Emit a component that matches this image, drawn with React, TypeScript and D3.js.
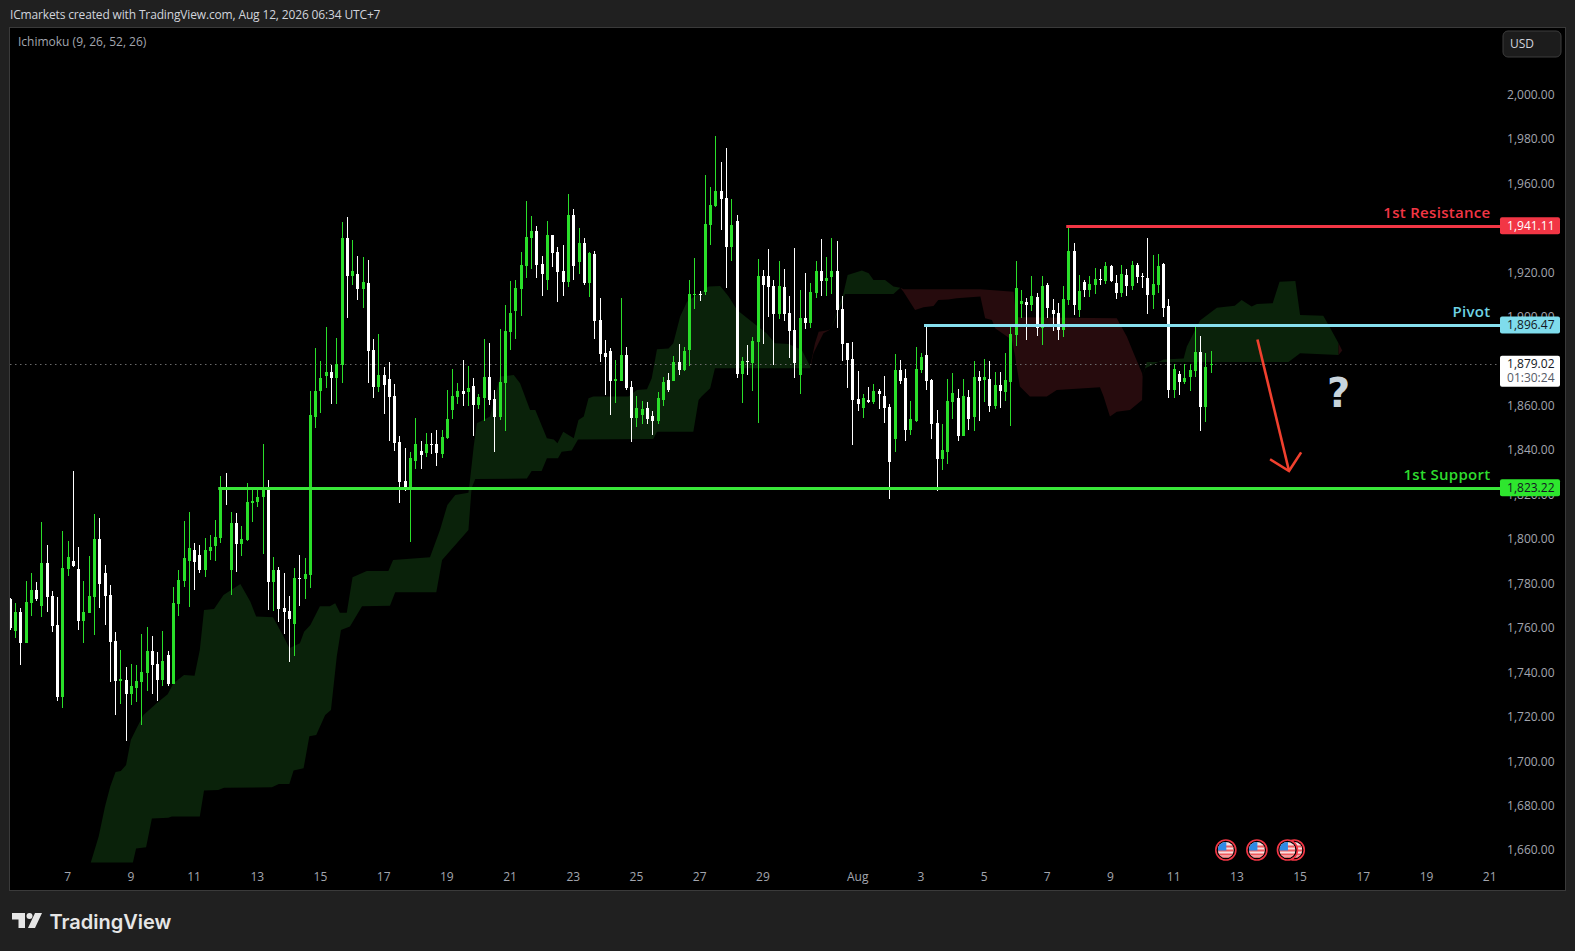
import React, { useEffect, useRef } from "react";
import * as d3 from "d3";

type Candle = [number, number, number, number]; // open, high, low, close
type Pt = [number, number]; // bar index, price

// 4h candles
const candlesFirstLeg: Candle[] = [
  [1773, 1773.5, 1759.3, 1760],
  [1758.8, 1771.3, 1755.7, 1767.4], [1767.4, 1769, 1743.5, 1753.4], [1753.4, 1781.1, 1753.4, 1771.9],
  [1771.4, 1784.9, 1765.6, 1777.3], [1777.3, 1780.9, 1772.3, 1773.2], [1770.1, 1807.9, 1765.1, 1789.4],
  [1789.4, 1797.5, 1767.4, 1774.1], [1774.6, 1776.8, 1758.4, 1761.1], [1761.5, 1774.1, 1727.3, 1729.1],
  [1729.1, 1803.8, 1724.2, 1787.2], [1786.7, 1799.3, 1783.6, 1792.1], [1790.3, 1830.8, 1787.6, 1788.1],
  [1786.7, 1796.6, 1759.3, 1763.3], [1763.3, 1781.3, 1753.4, 1767.4], [1766.9, 1792.6, 1766.9, 1774.6],
  [1774.1, 1811.5, 1757, 1800.2], [1800.2, 1809.7, 1769.2, 1780], [1784.9, 1788.5, 1761.5, 1774.6],
  [1775, 1779.5, 1735.9, 1753.9], [1754.3, 1758.4, 1721, 1736.3], [1736.3, 1750.3, 1726, 1737.2],
  [1736.8, 1742.6, 1709.3, 1730.5], [1730.5, 1744, 1725.5, 1734.1], [1733.2, 1743.5, 1726.9, 1736.3],
  [1735.9, 1757.5, 1716.5, 1740.4], [1739.9, 1760.6, 1731.8, 1749.8], [1749.8, 1756.6, 1730.5, 1743.5],
  [1744, 1749.4, 1727.3, 1736.8], [1736.8, 1758.8, 1734.1, 1745.3], [1748, 1749.8, 1734.1, 1735],
  [1735, 1778.6, 1735, 1771.4], [1771, 1786.3, 1765.6, 1781.8], [1781.3, 1808.3, 1778.6, 1791.7],
  [1790.3, 1812.4, 1769.6, 1796.2], [1795.3, 1798.4, 1777.3, 1789.9], [1793, 1797.5, 1784.9, 1786.3],
  [1786.3, 1800.7, 1783.1, 1795.3], [1794.8, 1802, 1790.8, 1796.6], [1797.1, 1808.8, 1790.3, 1801.1],
  [1800.7, 1828.6, 1798.4, 1823], [1823.6, 1829.9, 1815.5, 1823.2], [1786.3, 1812.4, 1775, 1807.4],
  [1807.4, 1811.9, 1785.4, 1798], [1798, 1806.1, 1792.6, 1800.2], [1799.8, 1825.4, 1799.3, 1816.9],
  [1816.4, 1822.3, 1807.9, 1817.3], [1816.9, 1822.3, 1814.6, 1819.1], [1819.1, 1843, 1793.5, 1822.3],
  [1822.7, 1826.8, 1768.3, 1780.9], [1780.9, 1792.1, 1767.8, 1786.3], [1786.3, 1787.6, 1762.9, 1768.7],
  [1769.2, 1784.9, 1757.5, 1767.4], [1767.8, 1774.6, 1744.9, 1764.2], [1762, 1787.2, 1747.6, 1782.7],
  [1782.7, 1793, 1770.1, 1782.2], [1782.2, 1791.7, 1773.2, 1784.5], [1784, 1866.8, 1778.2, 1856],
];

const candlesSecondLeg: Candle[] = [
  [1855.1, 1886.2, 1850.2, 1866.8], [1866.8, 1880.3, 1856.9, 1872.7], [1873.6, 1895.6, 1868.2, 1875.4],
  [1875.4, 1878.5, 1861, 1872.7], [1872.7, 1890.7, 1861, 1879], [1878.5, 1942.9, 1870.4, 1935.7],
  [1935.7, 1945.1, 1899.7, 1918.6], [1918.6, 1934.8, 1914.5, 1920.8], [1919.5, 1927.6, 1907.8, 1912.7],
  [1912.7, 1927.1, 1904.2, 1915.9], [1915.4, 1925.8, 1870.4, 1884.8], [1885.3, 1890.2, 1863.7, 1868.6],
  [1868.6, 1892.5, 1866.4, 1874], [1874, 1877.6, 1856.5, 1869.5], [1872.2, 1879.9, 1844.3, 1864.1],
  [1864.6, 1870, 1839.8, 1843.4], [1843.9, 1846.6, 1816.4, 1825.9], [1826.3, 1841.2, 1821.8, 1822.7],
  [1823, 1839.4, 1798.9, 1836.7], [1835.3, 1854.7, 1831.7, 1843], [1839.8, 1844.3, 1831.7, 1838],
  [1838.9, 1847.9, 1837.1, 1843], [1843, 1847.9, 1838.5, 1842.5], [1843, 1849.3, 1833.1, 1838.9],
  [1838.5, 1849.3, 1836.7, 1846.1], [1845.7, 1867.3, 1845.2, 1854.2], [1858.3, 1876.7, 1854.2, 1864.6],
  [1864.1, 1870.4, 1861, 1866.8], [1866.8, 1880.8, 1860.1, 1865.5], [1866.4, 1878.1, 1860.1, 1868.2],
  [1869.1, 1872.7, 1846.6, 1860.5], [1860.5, 1865.5, 1858.7, 1864.1], [1863.7, 1890.2, 1853.3, 1873.1],
  [1873.1, 1888.4, 1860.5, 1862.8], [1863.2, 1867.3, 1839.4, 1855.1], [1855.1, 1894.7, 1853.8, 1870.9],
  [1870.4, 1905.5, 1848.8, 1893.8], [1893.4, 1916.3, 1885.3, 1901.9], [1902.8, 1916.8, 1890.2, 1913.2],
  [1912.7, 1929.4, 1900.6, 1923.5], [1923.1, 1952.3, 1917.7, 1936.1], [1935.7, 1945.6, 1921.7, 1938.8],
  [1938.8, 1941.1, 1917.7, 1923.5], [1924, 1927.6, 1909.6, 1919.5], [1916.8, 1943.3, 1912.3, 1937],
  [1937, 1937, 1922.6, 1928.9], [1929.4, 1931.6, 1906.9, 1920.4], [1920.8, 1932.5, 1909.6, 1915.9],
  [1915.9, 1955.5, 1913.6, 1946], [1946, 1948.7, 1916.8, 1923.1], [1924.9, 1940.2, 1919.5, 1933.4],
  [1933.4, 1935.7, 1914.5, 1915.4], [1915.4, 1929.4, 1909.1, 1928.9], [1928.5, 1929.8, 1890.2, 1898.3],
  [1898.8, 1908.7, 1879.9, 1883.5], [1883.9, 1889.8, 1865, 1882.1], [1884.8, 1886.2, 1856, 1871.3],
  [1871.3, 1880.8, 1861.4, 1872.2], [1871.3, 1908.7, 1871.3, 1883], [1883, 1886.6, 1867.3, 1868.2],
];

const candlesThirdLeg: Candle[] = [
  [1868.6, 1871.3, 1843.9, 1854.7], [1854.7, 1864.6, 1850.6, 1859.2], [1856, 1862.3, 1852, 1858.7],
  [1859.2, 1861.9, 1852, 1854.2], [1855.6, 1857.8, 1847, 1853.3], [1853.3, 1866.4, 1852, 1863.7],
  [1862.8, 1873.1, 1860.1, 1870.9], [1871.8, 1874.9, 1866.4, 1867.3], [1871.3, 1882.6, 1871.3, 1879.9],
  [1879.9, 1888, 1874, 1876.3], [1876.3, 1886.6, 1875.8, 1884.8], [1885.3, 1916.8, 1878.1, 1910.5],
  [1910, 1926.7, 1903.7, 1910.5], [1910.5, 1911.8, 1907.3, 1910], [1911.4, 1964, 1910, 1942],
  [1941.5, 1958.6, 1932.5, 1950.5], [1950.1, 1981.6, 1949.6, 1956.8], [1956.8, 1969.9, 1939.3, 1953.2],
  [1953.7, 1976.2, 1913.2, 1931.6], [1931.6, 1953.2, 1925.3, 1941.5], [1943.3, 1946, 1872.7, 1874.5],
  [1874.5, 1882.1, 1861.4, 1880.3], [1880.3, 1887.5, 1874, 1879.9], [1879.4, 1891.1, 1866.8, 1889.3],
  [1888.9, 1926.2, 1852.4, 1918.6], [1918.6, 1921.3, 1888, 1914.5], [1918.6, 1930.7, 1900.1, 1913.6],
  [1914.1, 1916.8, 1878.5, 1901.5], [1901.5, 1925.3, 1899.2, 1914.1], [1913.6, 1921.7, 1898.3, 1901.5],
  [1901.9, 1909.6, 1881.7, 1893.8], [1894.3, 1931.2, 1872.7, 1879.4], [1874, 1912.3, 1865.5, 1899.7],
  [1899.7, 1919.9, 1894.7, 1897.4], [1897.4, 1915.4, 1895.2, 1911.4], [1910.9, 1925.3, 1908.7, 1920.8],
  [1920.8, 1935.2, 1909.6, 1916.3], [1916.3, 1927.1, 1909.6, 1917.7], [1918.1, 1935.7, 1910.5, 1920.8],
  [1920.8, 1934.3, 1895.2, 1903.3], [1903.7, 1909.6, 1880.3, 1888], [1888.4, 1888.4, 1868.2, 1880.8],
  [1881.2, 1888.9, 1842.5, 1862.8], [1863.2, 1875.8, 1857.8, 1861], [1859.2, 1865.5, 1854.7, 1863.7],
  [1862.8, 1868.6, 1861.4, 1861.9], [1861.9, 1870, 1861, 1866.8], [1866.8, 1867.7, 1858.7, 1865.5],
  [1864.6, 1873.6, 1852.4, 1859.2], [1859.6, 1861, 1818.2, 1834.9], [1845.2, 1883.5, 1839.4, 1876.3],
  [1876.3, 1880.8, 1870, 1871.3], [1872.7, 1876.7, 1844.3, 1849.3], [1849.3, 1862.3, 1847, 1854.2],
  [1853.3, 1886.6, 1852.9, 1876.7], [1876.3, 1883.9, 1874.9, 1882.1], [1883, 1896.5, 1867.3, 1871.3],
  [1871.8, 1872.2, 1845.2, 1852],
];

const candlesLastLeg: Candle[] = [
  [1852.4, 1858.3, 1822, 1836.2], [1836.2, 1852, 1831.3, 1840.3], [1839.4, 1872.2, 1834, 1862.3],
  [1861.9, 1874.9, 1854.2, 1865.9], [1863.7, 1867.7, 1844.3, 1846.6], [1846.6, 1872.2, 1846.6, 1864.6],
  [1864.1, 1867.3, 1849.3, 1854.2], [1855.1, 1880.3, 1848.8, 1873.1], [1873.1, 1875.8, 1853.3, 1871.3],
  [1871.8, 1881.2, 1861.9, 1873.1], [1872.2, 1880.3, 1857.4, 1860.1], [1860.1, 1875.4, 1858.7, 1869.5],
  [1869.5, 1875.4, 1859.2, 1866.8], [1866.4, 1883.9, 1862.3, 1871.8], [1870.9, 1897, 1851.1, 1892.5],
  [1892, 1925.3, 1887.1, 1913.2], [1906, 1912.3, 1899.7, 1907.3], [1906.9, 1908.7, 1889.8, 1905.5],
  [1905.5, 1918.6, 1902.8, 1909.6], [1909.1, 1910.9, 1891.6, 1895.2], [1895.2, 1918.6, 1887.5, 1914.1],
  [1914.5, 1915.4, 1899.7, 1904.2], [1903.3, 1908.2, 1893.8, 1901.5], [1901.9, 1906.4, 1889.8, 1894.3],
  [1894.3, 1914.1, 1891.1, 1908.2], [1907.8, 1941.1, 1905.5, 1929.8], [1929.8, 1933.4, 1901, 1905.5],
  [1903.3, 1919, 1900.1, 1911.8], [1915.9, 1916.8, 1909.1, 1912.3], [1912.3, 1918.6, 1909.1, 1915],
  [1914.5, 1922.2, 1910.5, 1917.2], [1917.2, 1921.7, 1914.5, 1916.8], [1916.3, 1924.9, 1915, 1923.1],
  [1923.1, 1923.5, 1915.9, 1916.3], [1915.4, 1919, 1908.2, 1910.9], [1910.9, 1923.5, 1909.1, 1919.5],
  [1919, 1921.7, 1909.6, 1914.1], [1914.1, 1925.3, 1912.3, 1923.5], [1923.5, 1924.4, 1915.4, 1918.1],
  [1918.6, 1919.9, 1913.2, 1918.1], [1917.7, 1935.7, 1901.5, 1910], [1910, 1928, 1903.7, 1915],
  [1914.5, 1928.5, 1910.9, 1923.1], [1924, 1924.4, 1900.1, 1904.2], [1905.1, 1908.2, 1863.7, 1867.3],
  [1867.3, 1879, 1863.7, 1876.7], [1874.5, 1875.8, 1865, 1870.9], [1870.9, 1879, 1870, 1872.7],
  [1873.1, 1879, 1866.8, 1876.3], [1875.8, 1896.1, 1873.1, 1884.4], [1884.4, 1891.6, 1848.8, 1859.6],
  [1859.6, 1883.9, 1852.9, 1877.6], [1878.5, 1884.8, 1874.9, 1879],
];

// Ichimoku cloud edges, bar index and price
const greenCloudUpper: Pt[] = [
  [15.3, 1654.6], [16.8, 1666.3], [18, 1679.8], [19, 1688.8], [20, 1695.4], [21, 1695.8], [22, 1698.5],
  [22.9, 1709.8], [24, 1715], [25.3, 1721], [27.8, 1726.3], [29.9, 1730.3], [31, 1735.3], [33, 1739],
  [35, 1738.7], [36, 1750.3], [36.8, 1768.3], [38.7, 1768.7], [40.5, 1775], [43.7, 1780], [45.6, 1772],
  [46.7, 1765.3], [49.9, 1765], [51.9, 1756.3], [53, 1751], [55, 1753.3], [55.8, 1758.5], [57, 1761.5],
  [58.8, 1770], [60.7, 1770], [61.7, 1771.3], [62.6, 1767], [63.9, 1767], [65, 1783], [67.7, 1785.8],
  [71.8, 1785.8], [72.7, 1790.8], [77.8, 1791.7], [79.7, 1792], [81.6, 1804.3], [83, 1815.5], [84.5, 1820],
  [87, 1821], [87.3, 1826.8], [88, 1841.8], [88.6, 1852.3], [91.1, 1855.3], [93, 1873.3], [95.6, 1874],
  [96.8, 1870.3], [98.7, 1858.3], [99.7, 1858.3], [101.9, 1845.5], [103.2, 1845], [103.9, 1843.3],
  [105, 1848.5], [107, 1845.5], [107.9, 1853.8], [108.9, 1855.3], [109.8, 1863.5], [110.7, 1864.3],
  [117.4, 1864.3], [119, 1867.3], [120.9, 1867.6], [121.8, 1872.5], [122.8, 1885.6], [125, 1885.9],
  [125.9, 1888.3], [127.2, 1900.3], [128.5, 1907], [132.6, 1913.8], [134.8, 1914.1], [136.4, 1909.3],
  [138, 1903.3], [140.8, 1898], [143.6, 1892.8], [145.2, 1888.3], [147.8, 1888], [150.3, 1885.3], [151.9, 1877.8],
];
const greenCloudLower: Pt[] = [
  [15.3, 1654.6], [23.3, 1654.6], [23.9, 1661], [25.8, 1661.5], [26.9, 1674.5], [30, 1674.8], [30.7, 1675.4],
  [36, 1675.4], [36.8, 1687], [39.5, 1687.3], [40.6, 1688.3], [49.7, 1688.5], [51, 1690], [53, 1690],
  [53.8, 1696], [55.7, 1697], [56.8, 1711.5], [58.1, 1712], [59.8, 1721], [60.9, 1723.3], [62, 1747.3],
  [62.8, 1759.3], [64.5, 1760.8], [66.8, 1770], [72.1, 1770.2], [73.1, 1776.2], [80.9, 1776.2], [82, 1790.8],
  [87, 1804.3], [87.6, 1823], [88.3, 1827.2], [98.1, 1827.4], [99, 1830.8], [100.9, 1830.8], [101.9, 1836.5],
  [104, 1836.5], [104.7, 1839.5], [106.6, 1840], [107.8, 1845], [122.1, 1845.2], [122.8, 1848.5], [129.7, 1848.5],
  [130.7, 1862.8], [131.3, 1864.5], [132.9, 1868], [133.8, 1877], [151.9, 1877],
];
const redWedgeUpper: Pt[] = [[151.9, 1877.8], [152.8, 1888.3], [153.5, 1893.5], [155, 1894], [155.8, 1894.6]];
const redWedgeLower: Pt[] = [[151.9, 1877], [152.5, 1883.8], [154.4, 1892.8], [155.8, 1894.6]];
const greenTwoUpper: Pt[] = [
  [155.8, 1894.6], [156.9, 1901.8], [158.2, 1910.8], [159, 1919], [161.7, 1921], [163, 1919.8], [163.9, 1916.8],
  [166.1, 1916.8], [167.7, 1913.8], [169, 1913.3],
];
const greenTwoLower: Pt[] = [[155.8, 1894.6], [157.6, 1904.8], [158.5, 1910.5], [167.7, 1910.5], [169, 1913.3]];
const redCloudUpper: Pt[] = [
  [169, 1913.3], [169.6, 1912.6], [184.2, 1912.6], [190.5, 1911.5], [191, 1900], [210.1, 1899.5], [212, 1891.3],
  [213.3, 1883.8], [214.9, 1874.8], [215, 1873.3],
];
const redCloudLower: Pt[] = [
  [169, 1913.3], [169.6, 1911.5], [171.8, 1903.3], [173.4, 1904.5], [175.3, 1905.1], [176.2, 1907.8], [178.1, 1908],
  [179.7, 1908.5], [184.2, 1909.3], [185.1, 1899.5], [186.4, 1898.8], [187, 1895], [190.2, 1889.8], [190.8, 1882.3],
  [191.7, 1868.8], [193.6, 1864.3], [196.8, 1864.3], [198.7, 1867.3], [206.9, 1868.5], [207.6, 1864.3], [208.8, 1855.3],
  [210.1, 1857.5], [212.6, 1858.3], [214.9, 1862.8], [215, 1873.3],
];
const greenThreeUpper: Pt[] = [
  [215, 1873.3], [215.5, 1877], [219, 1881], [222.8, 1881.4], [223.4, 1886.8], [225.9, 1898.5], [229.1, 1904.3],
  [232.5, 1905.2], [233.8, 1907.8], [235.7, 1904.8], [236.7, 1906], [239.7, 1906.3], [241, 1916], [244, 1916.3],
  [244.9, 1901], [249.3, 1900.7], [250.3, 1896.5], [252.2, 1888.3],
];
const greenThreeLower: Pt[] = [[215, 1873.3], [215.8, 1879.9], [242.7, 1879.9], [244.9, 1883.8], [252.2, 1883]];
const redTipUpper: Pt[] = [[252.2, 1888.3], [252.9, 1885]];
const redTipLower: Pt[] = [[252.2, 1883], [252.9, 1885]];

const priceTicks = [2000, 1980, 1960, 1940, 1920, 1900, 1880, 1860, 1840, 1820, 1800, 1780, 1760, 1740, 1720, 1700, 1680, 1660];
const dateTickBars = [11, 23, 35, 47, 59, 71, 83, 95, 107, 119, 131, 143, 161, 173, 185, 197, 209, 221, 233, 245, 257, 269, 281];
const dateTickLabels = ["7", "9", "11", "13", "15", "17", "19", "21", "23", "25", "27", "29", "Aug", "3", "5", "7", "9", "11", "13", "15", "17", "19", "21"];

const resistance = 1941.11;
const pivot = 1896.47;
const support = 1823.22;
const lastPrice = 1879.02;
const countdown = "01:30:24";

const resistanceStartBar = 200.5;
const pivotStartBar = 173.5;
const supportStartBar = 39.5;
const axisBar = 283;

const arrowShaft: Pt[] = [[236.8, 1890], [242.8, 1830.8]];
const arrowHead: Pt[] = [[239.2, 1836.1], [242.8, 1830.8], [245.1, 1839.2]];
const questionMark: Pt = [252.2, 1866];
const eventBars = [243.8, 230.8, 236.7, 242.5];

const width = 1575;
const height = 951;
const pane = { left: 10, top: 28, right: 1565, bottom: 890 };
const font = "'Open Sans', 'Noto Sans', sans-serif";
const candleUp = "#2adf2a";
const candleDown = "#ffffff";
const axisText = "#a3a6af";

const App: React.FC = () => {
  const svgRef = useRef<SVGSVGElement | null>(null);

  useEffect(() => {
    if (!svgRef.current) return;
    const svg = d3.select(svgRef.current);
    svg.selectAll("*").remove();

    svg.append("rect").attr("width", width).attr("height", height).attr("fill", "#202020");
    svg.append("rect")
      .attr("x", pane.left - 0.5)
      .attr("y", pane.top - 0.5)
      .attr("width", pane.right - pane.left + 1)
      .attr("height", pane.bottom - pane.top + 1)
      .attr("fill", "#000")
      .attr("stroke", "#3a3a3a");

    const defs = svg.append("defs");
    defs.append("clipPath").attr("id", "pane")
      .append("rect")
      .attr("x", pane.left)
      .attr("y", pane.top)
      .attr("width", pane.right - pane.left)
      .attr("height", pane.bottom - pane.top);
    defs.append("clipPath").attr("id", "flag").append("circle").attr("r", 8);

    const x = d3.scaleLinear().domain([0, 100]).range([10.2, 10.2 + 526.7]);
    const y = d3.scaleLinear().domain([2000, 1660]).range([95, 850.6]);

    const g = svg.append("g").attr("clip-path", "url(#pane)");

    // cloud
    const edge = d3.line<Pt>().x((d) => x(d[0])).y((d) => y(d[1]));
    const cloud = (upper: Pt[], lower: Pt[], fill: string) =>
      g.append("path")
        .attr("d", edge([...upper, ...[...lower].reverse()]) + "Z")
        .attr("fill", fill);
    const cloudGreen = "#0a220a";
    const cloudRed = "#260b0d";
    cloud(greenCloudUpper, greenCloudLower, cloudGreen);
    cloud(redWedgeUpper, redWedgeLower, cloudRed);
    cloud(greenTwoUpper, greenTwoLower, cloudGreen);
    cloud(redCloudUpper, redCloudLower, cloudRed);
    cloud(greenThreeUpper, greenThreeLower, cloudGreen);
    cloud(redTipUpper, redTipLower, cloudRed);

    // current price line
    g.append("line")
      .attr("x1", pane.left)
      .attr("x2", x(axisBar))
      .attr("y1", Math.round(y(lastPrice)) + 0.5)
      .attr("y2", Math.round(y(lastPrice)) + 0.5)
      .attr("stroke", "#6a6a6a")
      .attr("stroke-dasharray", "1.5 3.5");

    // candles
    const candles = [...candlesFirstLeg, ...candlesSecondLeg, ...candlesThirdLeg, ...candlesLastLeg];
    const bars = g.append("g").attr("shape-rendering", "crispEdges");
    candles.forEach((c, i) => {
      const [open, high, low, close] = c;
      const color = close >= open ? candleUp : candleDown;
      const cx = Math.floor(x(i));
      bars.append("rect")
        .attr("x", cx)
        .attr("y", y(high))
        .attr("width", 1)
        .attr("height", Math.max(1, y(low) - y(high)))
        .attr("fill", color);
      const top = y(Math.max(open, close));
      bars.append("rect")
        .attr("x", cx - 1)
        .attr("y", top)
        .attr("width", 3)
        .attr("height", Math.max(1, y(Math.min(open, close)) - top))
        .attr("fill", color);
    });

    // level lines
    const levels: [number, number, string, string][] = [
      [support, supportStartBar, "#39e639", "1st Support"],
      [pivot, pivotStartBar, "#86dfee", "Pivot"],
      [resistance, resistanceStartBar, "#f23645", "1st Resistance"],
    ];
    levels.forEach(([price, start, color, label]) => {
      g.append("line")
        .attr("x1", x(start))
        .attr("x2", x(axisBar))
        .attr("y1", Math.round(y(price)) + 0.5)
        .attr("y2", Math.round(y(price)) + 0.5)
        .attr("stroke", color)
        .attr("stroke-width", 3);
      g.append("text")
        .attr("x", 1490.5)
        .attr("y", y(price) - 13)
        .attr("dy", "0.35em")
        .attr("text-anchor", "end")
        .attr("font-family", font)
        .attr("font-size", 15)
        .attr("font-weight", 600)
        .attr("letter-spacing", 0.3)
        .attr("fill", label === "Pivot" ? "#6fd3e3" : label === "1st Support" ? "#2fdc2f" : color)
        .text(label);
    });

    // arrow
    const arrowColor = "#f0402e";
    [arrowShaft, arrowHead].forEach((pts) => {
      g.append("path")
        .attr("d", edge(pts))
        .attr("fill", "none")
        .attr("stroke", arrowColor)
        .attr("stroke-width", 2.6);
    });

    g.append("text")
      .attr("x", x(questionMark[0]))
      .attr("y", y(questionMark[1]))
      .attr("dy", "0.36em")
      .attr("text-anchor", "middle")
      .attr("font-family", "'DejaVu Sans', sans-serif")
      .attr("font-weight", 700)
      .attr("font-size", 40)
      .attr("fill", "#c8d4dc")
      .text("?");

    // price axis
    const priceAxis = svg.append("g")
      .attr("transform", "translate(1554.5,-0.5)")
      .call(
        d3.axisLeft(y)
          .tickValues(priceTicks)
          .tickSize(0)
          .tickPadding(0)
          .tickFormat((d) => d3.format(",.2f")(d as number))
      );
    priceAxis.select(".domain").remove();
    priceAxis.selectAll("text")
      .attr("font-family", font)
      .attr("font-size", 12)
      .attr("fill", axisText);

    // time axis
    const timeAxis = svg.append("g")
      .attr("transform", "translate(-1,872)")
      .call(
        d3.axisBottom(x)
          .tickValues(dateTickBars)
          .tickSize(0)
          .tickPadding(0)
          .tickFormat((_, i) => dateTickLabels[i])
      );
    timeAxis.select(".domain").remove();
    timeAxis.selectAll("text")
      .attr("font-family", font)
      .attr("font-size", 12)
      .attr("fill", axisText);

    // price labels
    const priceBox = (price: number, fill: string, textFill: string) => {
      const cy = y(price);
      svg.append("rect")
        .attr("x", 1500)
        .attr("y", cy - 8.5)
        .attr("width", 60)
        .attr("height", 17)
        .attr("rx", 2)
        .attr("fill", fill);
      svg.append("text")
        .attr("x", 1554.5)
        .attr("y", cy)
        .attr("dy", "0.35em")
        .attr("text-anchor", "end")
        .attr("font-family", font)
        .attr("font-size", 12)
        .attr("fill", textFill)
        .text(d3.format(",.2f")(price));
    };
    priceBox(resistance, "#f23645", "#ffffff");
    priceBox(pivot, "#7fdcec", "#131722");
    priceBox(support, "#2ee62e", "#131722");

    const lastY = y(lastPrice);
    svg.append("rect")
      .attr("x", 1500)
      .attr("y", lastY - 8)
      .attr("width", 60)
      .attr("height", 31)
      .attr("rx", 2)
      .attr("fill", "#ffffff");
    svg.append("text")
      .attr("x", 1554.5)
      .attr("y", lastY)
      .attr("dy", "0.35em")
      .attr("text-anchor", "end")
      .attr("font-family", font)
      .attr("font-size", 12)
      .attr("fill", "#131722")
      .text(d3.format(",.2f")(lastPrice));
    svg.append("text")
      .attr("x", 1554.5)
      .attr("y", lastY + 14)
      .attr("dy", "0.35em")
      .attr("text-anchor", "end")
      .attr("font-family", font)
      .attr("font-size", 12)
      .attr("fill", "#555a66")
      .text(countdown);

    // event icons
    eventBars.forEach((bar) => {
      const icon = svg.append("g").attr("transform", `translate(${x(bar)},850)`);
      icon.append("circle").attr("r", 10).attr("fill", "#000").attr("stroke", "#f23645").attr("stroke-width", 1.6);
      const flag = icon.append("g").attr("clip-path", "url(#flag)");
      flag.append("rect").attr("x", -8).attr("y", -8).attr("width", 16).attr("height", 16).attr("fill", "#f8dede");
      [-4.5, -0.5, 3.5, 6.5].forEach((sy) => {
        flag.append("rect").attr("x", -8).attr("y", sy).attr("width", 16).attr("height", 2).attr("fill", "#ee5a5f");
      });
      flag.append("rect").attr("x", -8).attr("y", -8).attr("width", 8.5).attr("height", 8.5).attr("fill", "#2f8ae6");
    });

    // header
    svg.append("text")
      .attr("x", 10)
      .attr("y", 19)
      .attr("font-family", font)
      .attr("font-size", 12)
      .attr("letter-spacing", -0.15)
      .attr("fill", "#d1d4dc")
      .text("ICmarkets created with TradingView.com, Aug 12, 2026 06:34 UTC+7");
    svg.append("text")
      .attr("x", 18)
      .attr("y", 46)
      .attr("font-family", font)
      .attr("font-size", 12)
      .attr("fill", "#a3a6af")
      .text("Ichimoku (9, 26, 52, 26)");

    // currency button
    svg.append("rect")
      .attr("x", 1503)
      .attr("y", 31)
      .attr("width", 58)
      .attr("height", 26)
      .attr("rx", 5)
      .attr("fill", "#1c1c1c")
      .attr("stroke", "#3c3c3c");
    svg.append("text")
      .attr("x", 1522)
      .attr("y", 44)
      .attr("dy", "0.35em")
      .attr("text-anchor", "middle")
      .attr("font-family", font)
      .attr("font-size", 12)
      .attr("fill", "#d1d4dc")
      .text("USD");

    // logo
    const logo = svg.append("g").attr("fill", "#e6e6e6");
    logo.append("path").attr("d", "M12 913H25V928H18.5V919.5H12Z");
    logo.append("circle").attr("cx", 29.5).attr("cy", 916).attr("r", 3);
    logo.append("path").attr("d", "M35 913H42L35 928H28Z");
    svg.append("text")
      .attr("x", 49.5)
      .attr("y", 928.5)
      .attr("font-family", "Inter, sans-serif")
      .attr("font-size", 20)
      .attr("font-weight", 600)
      .attr("fill", "#e6e6e6")
      .text("TradingView");
  }, []);

  return (
    <svg
      ref={svgRef}
      width={width}
      height={height}
      style={{ position: "fixed", left: 0, top: 0, display: "block" }}
    />
  );
};

export default App;
